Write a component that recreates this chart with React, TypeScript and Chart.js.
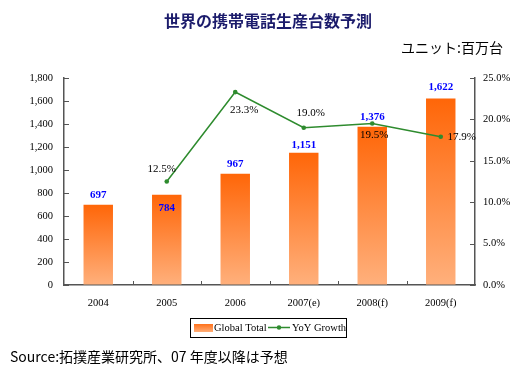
import React, { useEffect, useRef } from 'react';
import { Chart, registerables } from 'chart.js';
Chart.register(...registerables);

const categories = ['2004', '2005', '2006', '2007(e)', '2008(f)', '2009(f)'];
const globalTotal = [697, 784, 967, 1151, 1376, 1622];
const yoyGrowth: (number | null)[] = [null, 12.5, 23.3, 19.0, 19.5, 17.9];
const leftMax = 1800;
const leftStep = 200;
const rightMax = 25;
const rightStep = 5;

const titleText = '世界の携帯電話生産台数予測';
const unitText = 'ユニット:百万台';
const sourceText = 'Source:拓撲産業研究所、07 年度以降は予想';
const legendBarLabel = 'Global Total';
const legendLineLabel = 'YoY Growth';

// label placement (style only)
const barLabelDy = [-10, 13, -10, -7, -10, -11];
const growthLabelOffset = [
  [0, 0],
  [-5, -12],
  [9, 18],
  [7, -15],
  [2, 12],
  [21, 0],
];

const SERIF = '"Liberation Serif", "Times New Roman", serif';
const CJK = '"Noto Sans CJK JP", sans-serif';
const AXIS = '#555';

const fmtThousands = (v: number) => v.toLocaleString('en-US');

const decorPlugin = {
  id: 'decor',
  afterDatasetsDraw(chart: any) {
    const ctx = chart.ctx;
    ctx.save();
    // inward tick marks
    const { x, y, y1 } = chart.scales;
    const area = chart.chartArea;
    ctx.strokeStyle = AXIS;
    ctx.lineWidth = 1;
    ctx.beginPath();
    y.ticks.forEach((t: any) => {
      const py = Math.round(y.getPixelForValue(t.value)) + 0.5;
      ctx.moveTo(area.left, py);
      ctx.lineTo(area.left + 5, py);
    });
    y1.ticks.forEach((t: any) => {
      const py = Math.round(y1.getPixelForValue(t.value)) + 0.5;
      ctx.moveTo(area.right, py);
      ctx.lineTo(area.right - 5, py);
    });
    for (let i = 1; i < categories.length; i++) {
      const px = Math.round(x.getPixelForValue(i - 0.5)) + 0.5;
      ctx.moveTo(px, area.bottom);
      ctx.lineTo(px, area.bottom - 4);
    }
    ctx.stroke();
    // bar labels
    const barMeta = chart.getDatasetMeta(0);
    ctx.font = `bold 11px ${SERIF}`;
    ctx.fillStyle = '#0000ff';
    ctx.textAlign = 'center';
    ctx.textBaseline = 'middle';
    barMeta.data.forEach((el: any, i: number) => {
      ctx.fillText(fmtThousands(globalTotal[i]), el.x, el.y + barLabelDy[i]);
    });
    // growth labels
    const lineMeta = chart.getDatasetMeta(1);
    ctx.font = `11px ${SERIF}`;
    ctx.fillStyle = '#000';
    lineMeta.data.forEach((el: any, i: number) => {
      const v = yoyGrowth[i];
      if (v == null) return;
      const [dx, dy] = growthLabelOffset[i];
      ctx.fillText(v.toFixed(1) + '%', el.x + dx, el.y + dy);
    });
    ctx.restore();
  },
  afterDraw(chart: any) {
    const ctx = chart.ctx;
    ctx.save();
    // title
    ctx.font = `bold 16px ${CJK}`;
    ctx.fillStyle = '#1c1c6c';
    ctx.textAlign = 'center';
    ctx.textBaseline = 'middle';
    ctx.fillText(titleText, 268, 21);
    // unit
    ctx.font = `14px ${CJK}`;
    ctx.fillStyle = '#000';
    ctx.textAlign = 'right';
    ctx.fillText(unitText, 503, 48);
    // source
    ctx.font = `14px ${CJK}`;
    ctx.textAlign = 'left';
    ctx.fillText(sourceText, 10, 357);
    // legend
    ctx.strokeStyle = '#000';
    ctx.lineWidth = 1;
    ctx.strokeRect(190.5, 318.5, 156, 19);
    const g = ctx.createLinearGradient(0, 323, 0, 332);
    g.addColorStop(0, '#ff6a10');
    g.addColorStop(1, '#ffae78');
    ctx.fillStyle = g;
    ctx.fillRect(194, 324, 19, 8);
    ctx.font = `10.5px ${SERIF}`;
    ctx.fillStyle = '#000';
    ctx.textBaseline = 'middle';
    ctx.fillText(legendBarLabel, 214, 328);
    ctx.strokeStyle = '#2e8b2e';
    ctx.lineWidth = 1.5;
    ctx.beginPath();
    ctx.moveTo(268, 327.5);
    ctx.lineTo(290, 327.5);
    ctx.stroke();
    ctx.fillStyle = '#2e8b2e';
    ctx.beginPath();
    ctx.arc(279, 327.5, 2.2, 0, Math.PI * 2);
    ctx.fill();
    ctx.fillStyle = '#000';
    ctx.fillText(legendLineLabel, 292, 328);
    ctx.restore();
  },
};

export default function App() {
  const ref = useRef<HTMLCanvasElement>(null);
  useEffect(() => {
    document.body.style.margin = '0';
    const canvas = ref.current!;
    const chart = new Chart(canvas, {
      type: 'bar',
      data: {
        labels: categories,
        datasets: [
          {
            type: 'bar',
            label: legendBarLabel,
            data: globalTotal,
            yAxisID: 'y',
            order: 1,
            barPercentage: 0.43,
            categoryPercentage: 1,
            borderWidth: 0,
            backgroundColor: (c: any) => {
              const ch = c.chart;
              const area = ch.chartArea;
              if (!area || c.dataIndex == null) return '#ff7a2a';
              const top = ch.scales.y.getPixelForValue(globalTotal[c.dataIndex]);
              const grd = ch.ctx.createLinearGradient(0, top, 0, area.bottom);
              grd.addColorStop(0, '#ff6608');
              grd.addColorStop(1, '#ffb07c');
              return grd;
            },
          } as any,
          {
            type: 'line',
            label: legendLineLabel,
            data: yoyGrowth,
            yAxisID: 'y1',
            order: 0,
            borderColor: '#2e8b2e',
            backgroundColor: '#2e8b2e',
            borderWidth: 1.5,
            pointRadius: 2.3,
            pointBorderWidth: 0,
            tension: 0,
            spanGaps: false,
          } as any,
        ],
      },
      options: {
        responsive: false,
        animation: false,
        devicePixelRatio: 1,
        layout: { padding: { top: 78, left: 0, right: 0, bottom: 0 } },
        plugins: {
          legend: { display: false },
          title: { display: false },
          tooltip: { enabled: false },
        },
        scales: {
          x: {
            grid: { display: true, offset: true, drawOnChartArea: false, drawTicks: false },
            border: { display: true, color: AXIS, width: 1.5 },
            ticks: {
              color: '#000',
              font: { family: SERIF, size: 10.5 },
              padding: 12,
              maxRotation: 0,
              autoSkip: false,
            },
            afterFit: (s: any) => {
              s.height = 371 - 285;
            },
          },
          y: {
            position: 'left',
            min: 0,
            max: leftMax,
            grid: { drawOnChartArea: false, drawTicks: false },
            border: { display: true, color: AXIS, width: 1.5 },
            ticks: {
              stepSize: leftStep,
              color: '#000',
              font: { family: SERIF, size: 10.5 },
              padding: 11,
              callback: (v: any) => fmtThousands(Number(v)),
            },
            afterFit: (s: any) => {
              s.width = 64;
            },
          },
          y1: {
            position: 'right',
            min: 0,
            max: rightMax,
            grid: { drawOnChartArea: false, drawTicks: false },
            border: { display: true, color: AXIS, width: 1.5 },
            ticks: {
              stepSize: rightStep,
              color: '#000',
              font: { family: SERIF, size: 10.5 },
              padding: 8,
              callback: (v: any) => Number(v).toFixed(1) + '%',
            },
            afterFit: (s: any) => {
              s.width = 518 - 475;
            },
          },
        },
      },
      plugins: [decorPlugin],
    } as any);
    return () => chart.destroy();
  }, []);
  return (
    <div style={{ width: 518, height: 371, background: '#fff' }}>
      <canvas ref={ref} width={518} height={371} style={{ display: 'block' }} />
    </div>
  );
}
